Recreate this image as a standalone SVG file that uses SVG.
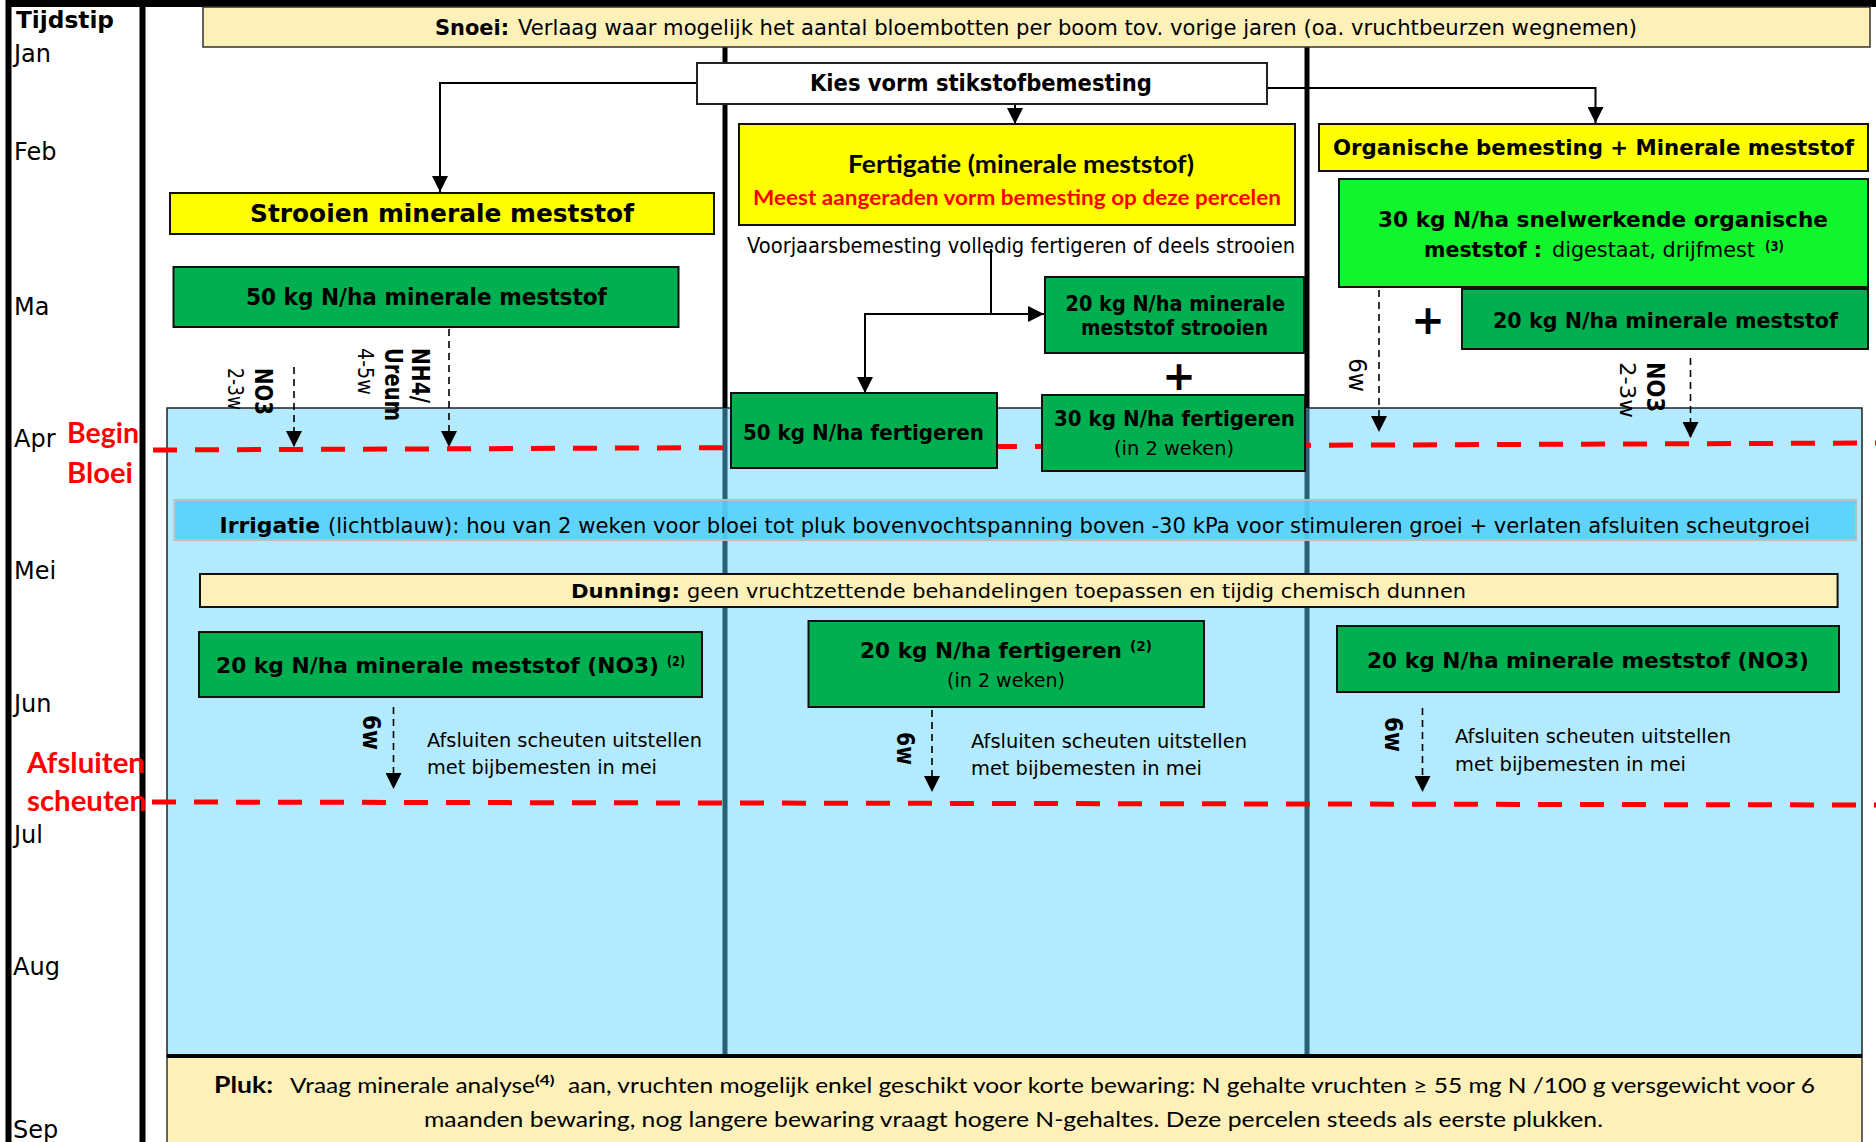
<svg xmlns="http://www.w3.org/2000/svg" width="1876" height="1142" viewBox="0 0 1876 1142">
<defs>
<style>
text{font-family:"DejaVu Sans","Liberation Sans",sans-serif;fill:#000}
.b{font-weight:bold}
.cal{font-family:Lato,"DejaVu Sans",sans-serif}
.red{fill:#ff0000}
.bx{stroke:#111;stroke-width:2}
.gr{fill:#00b050}
.ye{fill:#ffff00}
.cr{fill:#fdf0b9}
.conn{fill:none;stroke:#000;stroke-width:2}
.dsh{fill:none;stroke:#000;stroke-width:1.6;stroke-dasharray:7 5}
.rl{fill:none;stroke:#ff0000;stroke-width:5;stroke-dasharray:24 18}
.teal{stroke:#2a5f78;stroke-width:5}
.blk{stroke:#000}
</style>
<marker id="ah" viewBox="0 0 16 16" refX="16" refY="8" markerWidth="16" markerHeight="16" markerUnits="userSpaceOnUse" orient="auto"><path d="M0,0 L16,8 L0,16 Z" fill="#000"/></marker>
</defs>
<rect x="0" y="0" width="1876" height="1142" fill="#fff"/>

<g id="background">
<rect x="167" y="408" width="1695" height="648" fill="#b3eafd" stroke="#222" stroke-width="1.5"/>
<line class="teal" x1="725" y1="408" x2="725" y2="1056"/>
<line class="teal" x1="1307" y1="408" x2="1307" y2="1056"/>
<line class="blk" stroke-width="5" x1="725" y1="47" x2="725" y2="408"/>
<line class="blk" stroke-width="5" x1="1307" y1="47" x2="1307" y2="408"/>
<line x1="8.5" y1="0" x2="8.5" y2="1142" stroke="#000" stroke-width="6"/>
<line x1="142.5" y1="0" x2="142.5" y2="1142" stroke="#000" stroke-width="6"/>
<line x1="6" y1="3.5" x2="1876" y2="3.5" stroke="#000" stroke-width="7"/>
</g>

<g id="timeline">
<text class="b" x="16" y="28" font-size="23" textLength="98" lengthAdjust="spacingAndGlyphs">Tijdstip</text>
<text x="14" y="62" font-size="24">Jan</text>
<text x="14" y="160" font-size="24">Feb</text>
<text x="14" y="315" font-size="24">Ma</text>
<text x="14" y="447" font-size="24">Apr</text>
<text x="14" y="579" font-size="24">Mei</text>
<text x="14" y="712" font-size="24">Jun</text>
<text x="14" y="843" font-size="24">Jul</text>
<text x="13" y="975" font-size="24">Aug</text>
<text x="13" y="1138" font-size="24">Sep</text>
<text class="b cal red" x="67" y="443" font-size="28" textLength="72" lengthAdjust="spacingAndGlyphs">Begin</text>
<text class="b cal red" x="67" y="483" font-size="28" textLength="66" lengthAdjust="spacingAndGlyphs">Bloei</text>
<text class="b cal red" x="27" y="773" font-size="28" textLength="118" lengthAdjust="spacingAndGlyphs">Afsluiten</text>
<text class="b cal red" x="27" y="811" font-size="28" textLength="119" lengthAdjust="spacingAndGlyphs">scheuten</text>
</g>

<g id="snoei">
<rect class="cr" x="203" y="7" width="1667" height="40" stroke="#333" stroke-width="1.5"/>
<text class="b" x="435" y="35" font-size="21" textLength="74" lengthAdjust="spacingAndGlyphs">Snoei:</text>
<text x="518" y="35" font-size="21" textLength="1119" lengthAdjust="spacingAndGlyphs">Verlaag waar mogelijk het aantal bloembotten per boom tov. vorige jaren (oa. vruchtbeurzen wegnemen)</text>
</g>

<g id="irrigatie">
<rect x="174.5" y="500" width="1681.5" height="40" fill="#56d0fa" fill-opacity="0.9" stroke="#bdbdbd" stroke-width="2"/>
<text class="b" x="219.5" y="533" font-size="22" textLength="100.5" lengthAdjust="spacingAndGlyphs">Irrigatie</text>
<text x="328" y="533" font-size="22" textLength="1482" lengthAdjust="spacingAndGlyphs">(lichtblauw): hou van 2 weken voor bloei tot pluk bovenvochtspanning boven -30 kPa voor stimuleren groei + verlaten afsluiten scheutgroei</text>
</g>

<g id="dunning">
<rect class="cr" x="200" y="574" width="1637.6" height="33" stroke="#111" stroke-width="2"/>
<text class="b" x="571" y="598" font-size="20" textLength="109" lengthAdjust="spacingAndGlyphs">Dunning:</text>
<text x="687" y="598" font-size="20" textLength="779" lengthAdjust="spacingAndGlyphs">geen vruchtzettende behandelingen toepassen en tijdig chemisch dunnen</text>
</g>

<g id="pluk">
<rect class="cr" x="167" y="1056" width="1695" height="90" stroke="#333" stroke-width="1.5"/>
<line x1="167" y1="1056" x2="1862" y2="1056" stroke="#000" stroke-width="4"/>
<text class="b cal" x="214" y="1093" font-size="22" textLength="59" lengthAdjust="spacingAndGlyphs">Pluk:</text>
<text class="cal" x="290" y="1093" font-size="22" textLength="245" lengthAdjust="spacingAndGlyphs">Vraag minerale analyse</text>
<text class="b cal" x="535" y="1085" font-size="14" textLength="19.5" lengthAdjust="spacingAndGlyphs">(4)</text>
<text class="cal" x="568" y="1093" font-size="22" textLength="1247" lengthAdjust="spacingAndGlyphs">aan, vruchten mogelijk enkel geschikt voor korte bewaring: N gehalte vruchten ≥ 55 mg N /100 g versgewicht voor 6</text>
<text class="cal" x="424" y="1127" font-size="22" textLength="1179" lengthAdjust="spacingAndGlyphs">maanden bewaring, nog langere bewaring vraagt hogere N-gehaltes. Deze percelen steeds als eerste plukken.</text>
</g>

<g id="markers-red">
<line class="rl" x1="153" y1="450" x2="1876" y2="443"/>
<line class="rl" x1="152" y1="802" x2="1876" y2="805"/>
</g>

<g id="connectors">
<polyline class="conn" points="697,83 440,83 440,192" marker-end="url(#ah)"/>
<line class="conn" x1="1015" y1="104" x2="1015" y2="124" marker-end="url(#ah)"/>
<polyline class="conn" points="1267,88 1595.5,88 1595.5,123" marker-end="url(#ah)"/>
<line class="conn" x1="991" y1="249" x2="991" y2="314"/>
<line class="conn" x1="865" y1="314" x2="1044" y2="314" marker-end="url(#ah)"/>
<line class="conn" x1="865" y1="313" x2="865" y2="393" marker-end="url(#ah)"/>
<line class="dsh" x1="294" y1="367" x2="294" y2="447" marker-end="url(#ah)"/>
<line class="dsh" x1="449" y1="329" x2="449" y2="447" marker-end="url(#ah)"/>
<line class="dsh" x1="1379" y1="290" x2="1379" y2="432" marker-end="url(#ah)"/>
<line class="dsh" x1="1690.5" y1="358" x2="1690.5" y2="438" marker-end="url(#ah)"/>
<line class="dsh" x1="393.5" y1="707" x2="393.5" y2="789" marker-end="url(#ah)"/>
<line class="dsh" x1="932" y1="710" x2="932" y2="792" marker-end="url(#ah)"/>
<line class="dsh" x1="1422.5" y1="708" x2="1422.5" y2="792" marker-end="url(#ah)"/>
</g>

<g id="kies">
<rect x="697" y="63" width="570" height="41" fill="#fff" stroke="#222" stroke-width="2"/>
<text class="b" x="810" y="91" font-size="23" textLength="342" lengthAdjust="spacingAndGlyphs">Kies vorm stikstofbemesting</text>
</g>

<g id="strooien">
<rect class="ye bx" x="170" y="193" width="544" height="41"/>
<text class="b" x="250" y="222" font-size="25" textLength="384" lengthAdjust="spacingAndGlyphs">Strooien minerale meststof</text>
</g>
<g id="strooien-50">
<rect class="gr bx" x="173.5" y="267" width="505" height="60"/>
<text class="b" x="246" y="305" font-size="23" textLength="361" lengthAdjust="spacingAndGlyphs">50 kg N/ha minerale meststof</text>
</g>
<g id="label-no3-left">
<text class="b" transform="translate(255,368) rotate(90)" font-size="24" textLength="47" lengthAdjust="spacingAndGlyphs">NO3</text>
<text transform="translate(228,368) rotate(90)" font-size="21" textLength="42" lengthAdjust="spacingAndGlyphs">2-3w</text>
</g>
<g id="label-nh4">
<text class="b" transform="translate(412,348) rotate(90)" font-size="25" textLength="55" lengthAdjust="spacingAndGlyphs">NH4/</text>
<text class="b" transform="translate(385,348) rotate(90)" font-size="25" textLength="73" lengthAdjust="spacingAndGlyphs">Ureum</text>
<text transform="translate(358,348) rotate(90)" font-size="22" textLength="47" lengthAdjust="spacingAndGlyphs">4-5w</text>
</g>
<g id="strooien-20">
<rect class="gr bx" x="199" y="632" width="503" height="65"/>
<text class="b" x="216" y="673" font-size="22" textLength="443" lengthAdjust="spacingAndGlyphs">20 kg N/ha minerale meststof (NO3)</text>
<text class="b" x="667" y="666" font-size="14" textLength="18" lengthAdjust="spacingAndGlyphs">(2)</text>
</g>
<g id="note-left">
<text class="b" transform="translate(363,715) rotate(90)" font-size="25" textLength="35" lengthAdjust="spacingAndGlyphs">6w</text>
<text x="427" y="747" font-size="19" textLength="275" lengthAdjust="spacingAndGlyphs">Afsluiten scheuten uitstellen</text>
<text x="427" y="774" font-size="19" textLength="230" lengthAdjust="spacingAndGlyphs">met bijbemesten in mei</text>
</g>

<g id="fertigatie">
<rect class="ye bx" x="739" y="124" width="556" height="101"/>
<text class="b cal" x="848" y="173" font-size="24" textLength="346" lengthAdjust="spacingAndGlyphs">Fertigatie (minerale meststof)</text>
<text class="b cal red" x="753" y="205" font-size="20" textLength="528" lengthAdjust="spacingAndGlyphs">Meest aangeraden vorm bemesting op deze percelen</text>
</g>
<text id="voorjaars" x="747" y="253" font-size="20.5" textLength="548" lengthAdjust="spacingAndGlyphs">Voorjaarsbemesting volledig fertigeren of deels strooien</text>
<g id="fert-strooien-20">
<rect class="gr bx" x="1045" y="277" width="259" height="76"/>
<text class="b" x="1065.5" y="311" font-size="21" textLength="219.5" lengthAdjust="spacingAndGlyphs">20 kg N/ha minerale</text>
<text class="b" x="1081" y="335" font-size="21" textLength="187" lengthAdjust="spacingAndGlyphs">meststof strooien</text>
</g>
<text id="plus-mid" class="b" x="1179" y="390" font-size="40" text-anchor="middle">+</text>
<g id="fert-50">
<rect class="gr bx" x="731" y="393" width="266" height="75"/>
<text class="b" x="743" y="440" font-size="21" textLength="241" lengthAdjust="spacingAndGlyphs">50  kg N/ha fertigeren</text>
</g>
<g id="fert-30">
<rect class="gr bx" x="1042" y="395" width="263" height="76"/>
<text class="b" x="1054" y="426" font-size="21" textLength="241" lengthAdjust="spacingAndGlyphs">30  kg N/ha fertigeren</text>
<text x="1114" y="455" font-size="19" textLength="120" lengthAdjust="spacingAndGlyphs">(in 2 weken)</text>
</g>
<g id="fert-20">
<rect class="gr bx" x="808.5" y="621" width="395.5" height="86"/>
<text class="b" x="860" y="658" font-size="22" textLength="262" lengthAdjust="spacingAndGlyphs">20 kg N/ha fertigeren</text>
<text class="b" x="1130" y="651" font-size="14" textLength="22" lengthAdjust="spacingAndGlyphs">(2)</text>
<text x="947" y="687" font-size="19" textLength="118" lengthAdjust="spacingAndGlyphs">(in 2 weken)</text>
</g>
<g id="note-mid">
<text class="b" transform="translate(897,732) rotate(90)" font-size="25" textLength="33" lengthAdjust="spacingAndGlyphs">6w</text>
<text x="971" y="748" font-size="19" textLength="276" lengthAdjust="spacingAndGlyphs">Afsluiten scheuten uitstellen</text>
<text x="971" y="775" font-size="19" textLength="231" lengthAdjust="spacingAndGlyphs">met bijbemesten in mei</text>
</g>

<g id="organisch">
<rect class="ye bx" x="1319" y="124" width="549" height="47"/>
<text class="b" x="1333" y="155" font-size="22" textLength="521" lengthAdjust="spacingAndGlyphs">Organische bemesting + Minerale meststof</text>
</g>
<g id="organisch-30">
<rect class="bx" x="1339" y="179" width="529" height="108" fill="#10f52c"/>
<text class="b" x="1378" y="227" font-size="22" textLength="450" lengthAdjust="spacingAndGlyphs">30 kg N/ha snelwerkende organische</text>
<text class="b" x="1424" y="257" font-size="22" textLength="118" lengthAdjust="spacingAndGlyphs">meststof :</text>
<text x="1552" y="257" font-size="22" textLength="203" lengthAdjust="spacingAndGlyphs">digestaat, drijfmest</text>
<text class="b" x="1765" y="251" font-size="14" textLength="19" lengthAdjust="spacingAndGlyphs">(3)</text>
</g>
<text id="plus-right" class="b" x="1428" y="334" font-size="40" text-anchor="middle">+</text>
<g id="organisch-20">
<rect class="gr bx" x="1462" y="289" width="406" height="60"/>
<text class="b" x="1493" y="328" font-size="22" textLength="345" lengthAdjust="spacingAndGlyphs">20 kg N/ha minerale meststof</text>
</g>
<text id="label-6w-right" transform="translate(1349,358) rotate(90)" font-size="25" textLength="34" lengthAdjust="spacingAndGlyphs">6w</text>
<g id="label-no3-right">
<text class="b" transform="translate(1647,362) rotate(90)" font-size="25" textLength="50" lengthAdjust="spacingAndGlyphs">NO3</text>
<text transform="translate(1620,362) rotate(90)" font-size="22" textLength="56" lengthAdjust="spacingAndGlyphs">2-3w</text>
</g>
<g id="organisch-no3">
<rect class="gr bx" x="1337" y="626" width="502" height="66"/>
<text class="b" x="1367" y="668" font-size="22" textLength="442" lengthAdjust="spacingAndGlyphs">20 kg N/ha minerale meststof (NO3)</text>
</g>
<g id="note-right">
<text class="b" transform="translate(1385,717) rotate(90)" font-size="25" textLength="35" lengthAdjust="spacingAndGlyphs">6w</text>
<text x="1455" y="743" font-size="19" textLength="276" lengthAdjust="spacingAndGlyphs">Afsluiten scheuten uitstellen</text>
<text x="1455" y="771" font-size="19" textLength="231" lengthAdjust="spacingAndGlyphs">met bijbemesten in mei</text>
</g>
</svg>
